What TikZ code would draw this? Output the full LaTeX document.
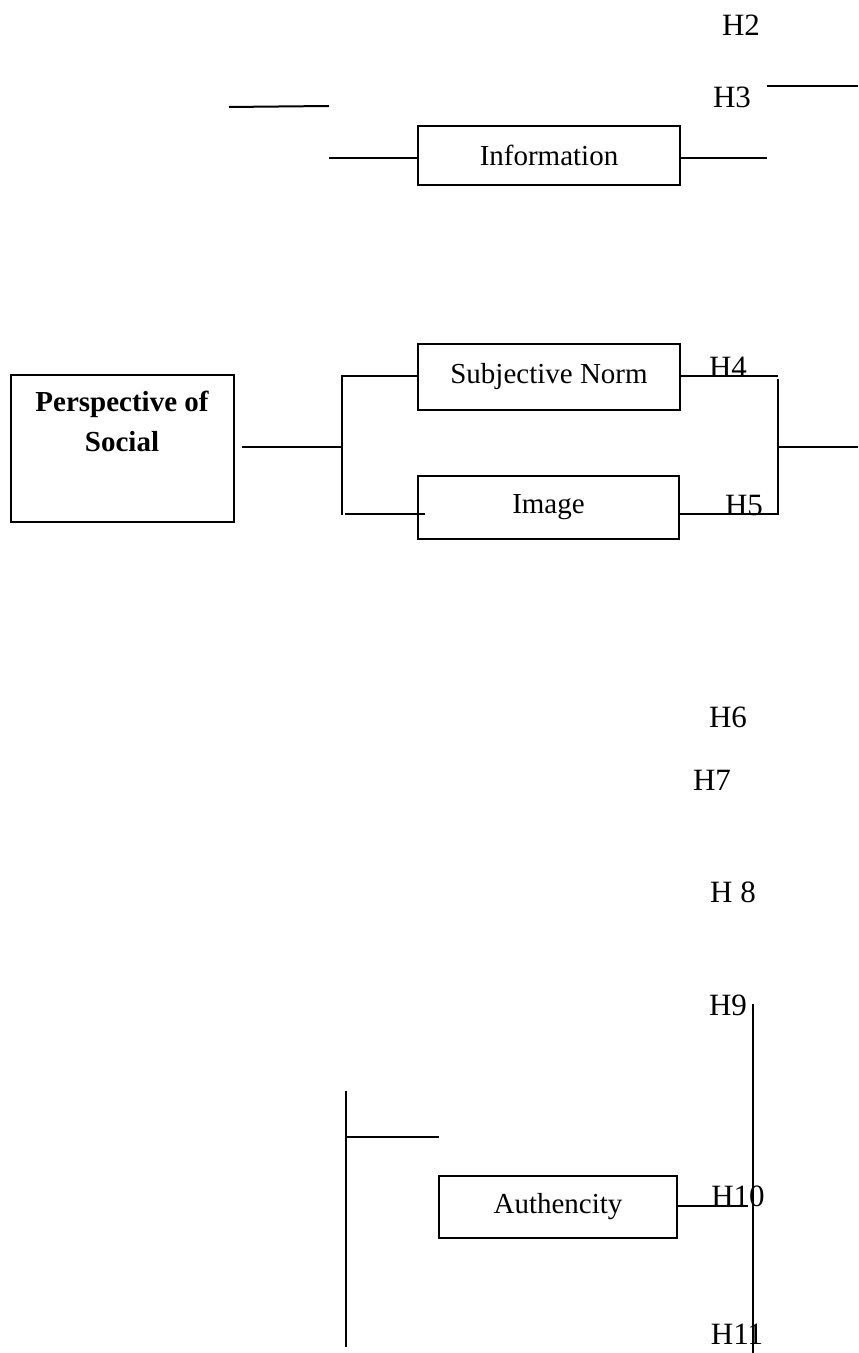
\documentclass[tikz,border=0pt]{standalone}
\usepackage{fontspec}
\setmainfont{Liberation Serif}
\usetikzlibrary{calc}

\tikzset{
  conbox/.style={draw,rectangle,line width=1pt,inner sep=0pt,
    font=\fontsize{14.5}{19}\selectfont},
  hyp/.style={inner sep=0pt,font=\fontsize{15.5}{19}\selectfont},
  link/.style={line width=1pt}
}

\begin{document}
\begin{tikzpicture}[x=0.5pt,y=-0.5pt]
    \useasboundingbox (0,0) rectangle (858,1353);

    % constructs
    \node[conbox,minimum width=131pt,minimum height=29.5pt] (info) at (549,155.5) {Information};
    \node[conbox,minimum width=111.5pt,minimum height=73.5pt] (persp) at (122.5,448.5) {};
    \node[inner sep=0pt,align=center,font=\fontsize{14.5}{20}\selectfont\bfseries]
        (persptext) at (122,421) {Perspective of\\Social};
    \node[conbox,minimum width=131pt,minimum height=33pt] (subj) at (549,377) {Subjective Norm};
    \node[conbox,minimum width=130.5pt,minimum height=31.5pt] (img) at (548.5,507.5) {Image};
    \node[conbox,minimum width=119pt,minimum height=31pt] (auth) at (558,1207) {Authencity};

    % hypotheses
    \node[hyp] (h2) at (741,25) {H2};
    \node[hyp] (h3) at (732,97) {H3};
    \node[hyp] (h4) at (728,367) {H4};
    \node[hyp] (h5) at (744,505) {H5};
    \node[hyp] (h6) at (728,717) {H6};
    \node[hyp] (h7) at (712,780) {H7};
    \node[hyp] (h8) at (733,892) {H 8};
    \node[hyp] (h9) at (728,1005) {H9};
    \node[hyp] (h10) at (738,1196) {H10};
    \node[hyp] (h11) at (737,1334) {H11};

    \coordinate (topA) at (229,107);
    \coordinate (topB) at (329,106);
    \coordinate (infoL) at (329,158);
    \coordinate (infoR) at (767,158);
    \coordinate (h3L) at (767,86);
    \coordinate (h3R) at (858,86);
    \coordinate (perspR) at (242,447);
    \coordinate (forkL) at (342,447);
    \coordinate (forkT) at (342,376);
    \coordinate (forkB) at (342,515);
    \coordinate (imgS) at (345,514);
    \coordinate (imgL) at (425,514);
    \coordinate (joinT) at (778,376);
    \coordinate (joinV) at (778,379);
    \coordinate (joinB) at (778,514);
    \coordinate (joinM) at (778,447);
    \coordinate (joinR) at (858,447);
    \coordinate (barT) at (753,1004);
    \coordinate (barB) at (753,1353);
    \coordinate (authR) at (748,1206);
    \coordinate (leftT) at (346,1091);
    \coordinate (leftB) at (346,1347);
    \coordinate (leftS) at (346,1137);
    \coordinate (leftE) at (439,1137);

    % connectors
    \draw[link] (topA) -- (topB);
    \draw[link] (infoL) -- (infoL -| info.west);
    \draw[link] (info.east |- infoR) -- (infoR);
    \draw[link] (h3L) -- (h3R);

    \draw[link] (perspR) -- (forkL);
    \draw[link] (forkB) -- (forkT) -- (forkT -| subj.west);
    \draw[link] (imgS) -- (imgL);
    \draw[link] (subj.east |- joinT) -- (joinT);
    \draw[link] (img.east |- joinB) -- (joinB) -- (joinV);
    \draw[link] (joinM) -- (joinR);

    \draw[link] (leftT) -- (leftB);
    \draw[link] (leftS) -- (leftE);
    \draw[link] (auth.east |- authR) -- (authR);
    \draw[link] (barT) -- (barB);
\end{tikzpicture}
\end{document}
